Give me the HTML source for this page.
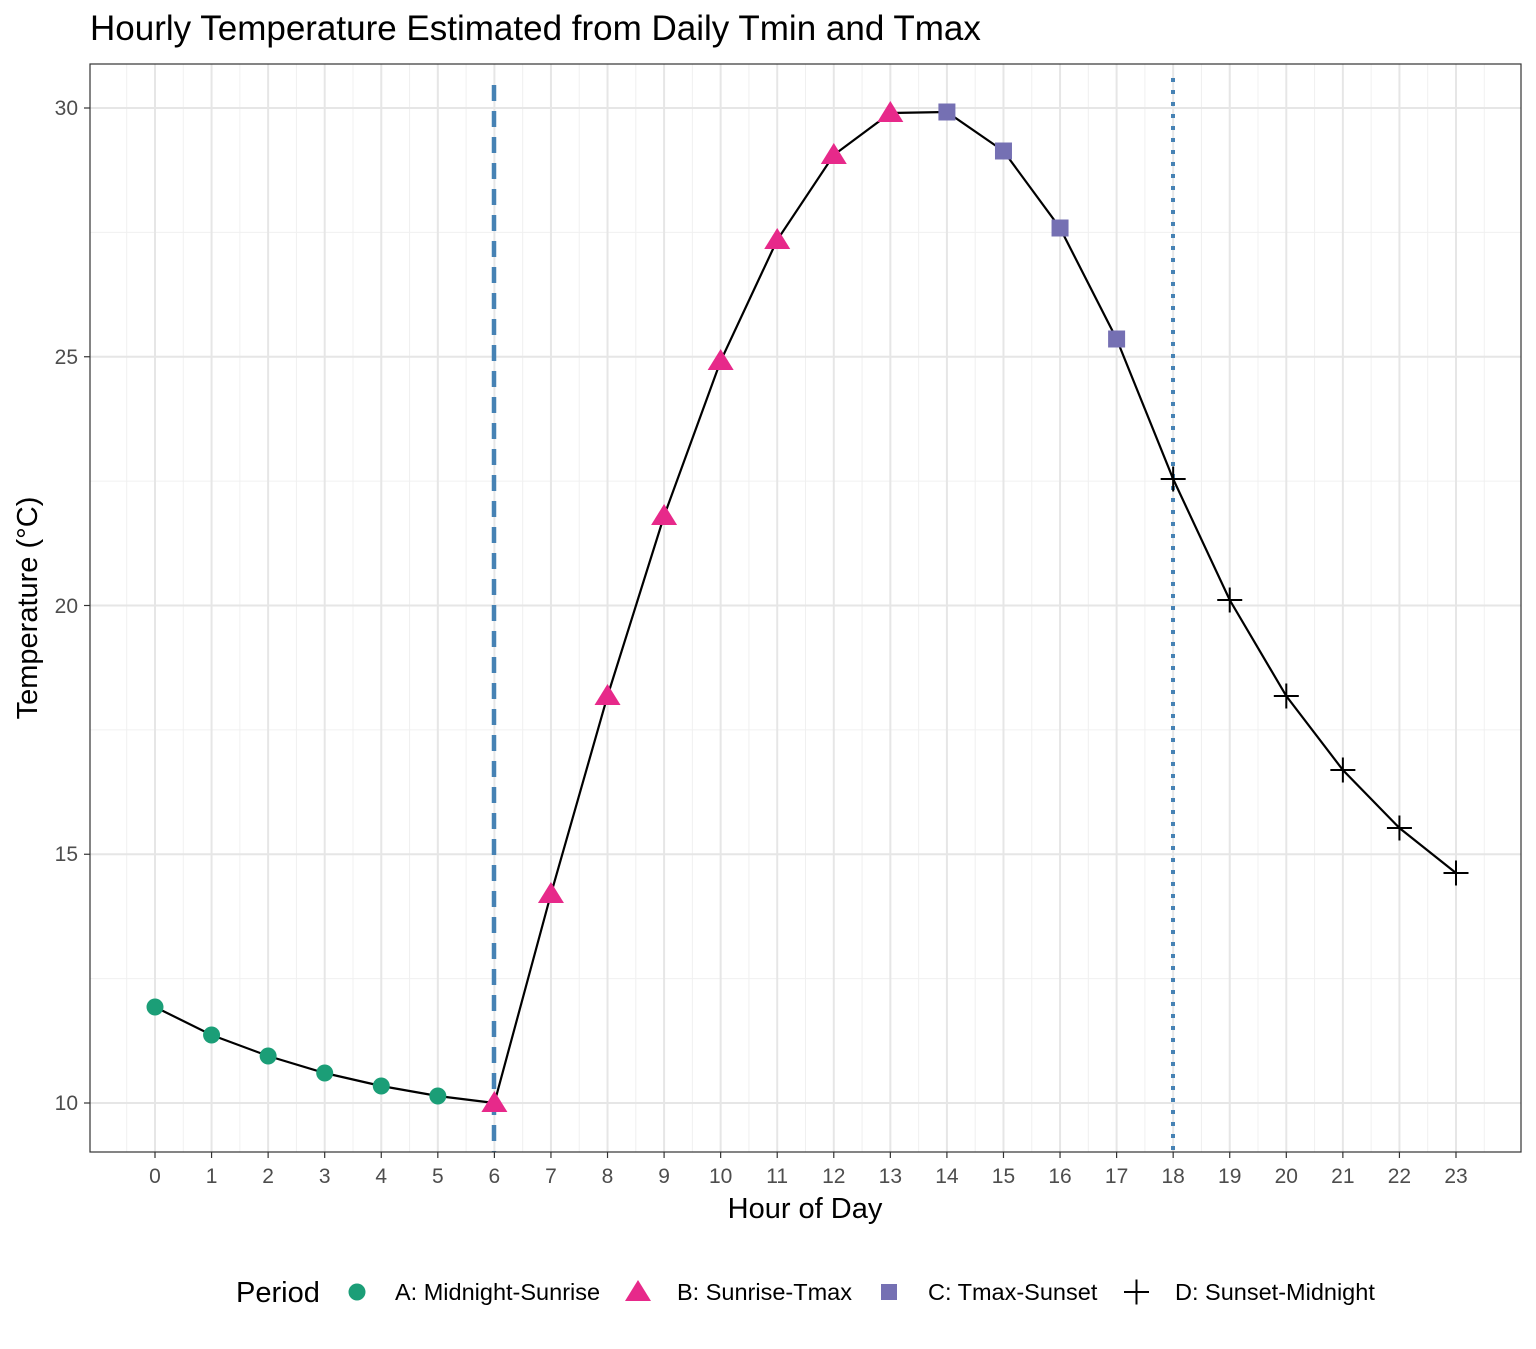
<!DOCTYPE html>
<html><head><meta charset="utf-8"><style>body{margin:0;background:#fff}</style></head><body>
<svg width="1536" height="1344" xmlns="http://www.w3.org/2000/svg" font-family="Liberation Sans, sans-serif">
<rect width="1536" height="1344" fill="#fff"/>
<g id="minor" stroke="#f0f0f0" stroke-width="1"></g>
<g id="major" stroke="#e6e6e6" stroke-width="2"></g>
<line x1="494" y1="85" x2="494" y2="1152" stroke="#4682b4" stroke-width="4.5" stroke-dasharray="16,10"/>
<line x1="1173" y1="78" x2="1173" y2="1152" stroke="#4682b4" stroke-width="4" stroke-dasharray="4,8"/>
<polyline id="ln" fill="none" stroke="#000" stroke-width="2.2"/>
<g id="pts"></g>
<rect x="90" y="64" width="1431" height="1088" fill="none" stroke="#333" stroke-width="1.2"/>
<g id="xt" font-size="21" fill="#4d4d4d" text-anchor="middle"></g>
<g font-size="21" fill="#4d4d4d" text-anchor="end">
<text x="78" y="115">30</text><text x="78" y="364">25</text><text x="78" y="613">20</text><text x="78" y="861">15</text><text x="78" y="1110">10</text>
</g>
<g id="yt" stroke="#333" stroke-width="1.2"></g>
<text x="90" y="40" font-size="35" fill="#000">Hourly Temperature Estimated from Daily Tmin and Tmax</text>
<text x="805" y="1218" font-size="29" text-anchor="middle">Hour of Day</text>
<text transform="translate(37,608) rotate(-90)" font-size="29" text-anchor="middle">Temperature (°C)</text>
<text x="236" y="1302" font-size="29">Period</text>
<circle cx="357" cy="1292" r="8.5" fill="#1b9e77"/>
<text x="395" y="1300" font-size="23.5">A: Midnight-Sunrise</text>
<polygon points="638,1280 651,1301 625,1301" fill="#e7298a"/>
<text x="677" y="1300" font-size="23.5">B: Sunrise-Tmax</text>
<rect x="881" y="1284" width="16" height="16" fill="#7570b3"/>
<text x="928" y="1300" font-size="23.5">C: Tmax-Sunset</text>
<path d="M1124,1292h25M1136.5,1279.5v25" stroke="#000" stroke-width="2"/>
<text x="1175" y="1300" font-size="23.5">D: Sunset-Midnight</text>
</svg>
<script>
const ns="http://www.w3.org/2000/svg";
function el(p,t,a){const e=document.createElementNS(ns,t);for(const k in a)e.setAttribute(k,a[k]);document.getElementById(p).appendChild(e);return e;}
const X=h=>155+h*56.565, Y=v=>108+(30-v)*49.75;
for(let h=-0.5;h<=23.5;h+=1)el("minor","line",{x1:X(h),x2:X(h),y1:64,y2:1152});
for(const v of [12.5,17.5,22.5,27.5])el("minor","line",{x1:90,x2:1521,y1:Y(v),y2:Y(v)});
for(let h=0;h<24;h++){el("major","line",{x1:X(h),x2:X(h),y1:64,y2:1152});
el("yt","line",{x1:X(h),x2:X(h),y1:1152,y2:1158});
el("xt","text",{x:X(h),y:1183}).textContent=h;}
for(const v of [10,15,20,25,30]){el("major","line",{x1:90,x2:1521,y1:Y(v),y2:Y(v)});el("yt","line",{x1:84,x2:90,y1:Y(v),y2:Y(v)});}
const ys=[1007,1035,1056,1073,1086,1096,1103,894,696,516,361,240,155,113,112,151,228,339,479,600,696,770,828,873];
document.getElementById("ln").setAttribute("points",ys.map((y,h)=>X(h)+","+y).join(" "));
ys.forEach((y,h)=>{const x=X(h);
if(h<6)el("pts","circle",{cx:x,cy:y,r:8.5,fill:"#1b9e77"});
else if(h<14)el("pts","polygon",{points:`${x},${y-12} ${x+13},${y+9} ${x-13},${y+9}`,fill:"#e7298a"});
else if(h<18)el("pts","rect",{x:x-8.5,y:y-8.5,width:17,height:17,fill:"#7570b3"});
else el("pts","path",{d:`M${x-12.5},${y}h25M${x},${y-12.5}v25`,stroke:"#000","stroke-width":2});});
</script>
</body></html>
